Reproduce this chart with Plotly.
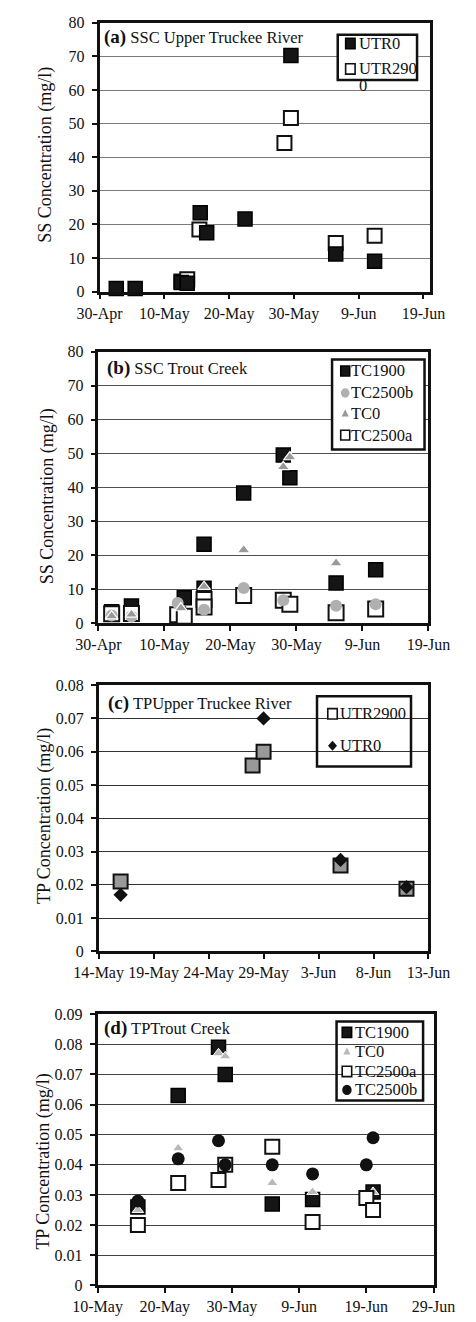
import plotly.graph_objects as go

W, H = 476, 1322
FONT = "Liberation Serif"

# ---------------- data ----------------
# (a) SSC Upper Truckee River
a_utr0_dates = ["2005-05-02 14:00", "2005-05-05 12:00", "2005-05-12 15:00", "2005-05-13 13:00",
                "2005-05-15 13:00", "2005-05-16 13:00", "2005-05-22 11:00", "2005-05-29 13:00",
                "2005-06-05 11:00", "2005-06-11 11:00"]
a_utr0_vals = [0.9, 0.9, 2.7, 2.5, 23.5, 17.5, 21.6, 70.3, 11.2, 9.0]
a_utr2900_dates = ["2005-05-12 15:00", "2005-05-13 13:00", "2005-05-15 10:00", "2005-05-28 13:00",
                   "2005-05-29 13:00", "2005-06-05 11:00", "2005-06-11 11:00"]
a_utr2900_vals = [3.0, 3.7, 18.5, 44.2, 51.7, 14.5, 16.6]

# (b) SSC Trout Creek
b_tc1900_dates = ["2005-05-02", "2005-05-05", "2005-05-13", "2005-05-16", "2005-05-16",
                  "2005-05-22", "2005-05-28", "2005-05-29", "2005-06-05", "2005-06-11"]
b_tc1900_vals = [3.4, 5.1, 7.5, 23.3, 10.3, 38.4, 49.6, 42.9, 11.9, 15.8]
b_tc2500b_dates = ["2005-05-02", "2005-05-05", "2005-05-12", "2005-05-16", "2005-05-22",
                   "2005-05-28", "2005-06-05", "2005-06-11"]
b_tc2500b_vals = [2.3, 2.0, 6.0, 4.0, 10.4, 6.8, 5.2, 5.6]
b_tc0_dates = ["2005-05-02", "2005-05-05", "2005-05-12 12:00", "2005-05-16", "2005-05-22",
               "2005-05-28", "2005-05-29", "2005-06-05"]
b_tc0_vals = [2.1, 2.6, 4.5, 10.8, 21.6, 46.1, 49.0, 17.7]
b_tc2500a_dates = ["2005-05-02", "2005-05-05", "2005-05-12", "2005-05-13", "2005-05-16",
                   "2005-05-16", "2005-05-22", "2005-05-28", "2005-05-29", "2005-06-05", "2005-06-11"]
b_tc2500a_vals = [2.8, 2.9, 2.5, 2.1, 7.0, 4.8, 8.2, 6.8, 5.6, 3.1, 4.2]

# (c) TP Upper Truckee River
c_utr2900_dates = ["2005-05-16", "2005-05-28", "2005-05-29", "2005-06-05", "2005-06-11"]
c_utr2900_vals = [0.021, 0.0559, 0.0600, 0.0258, 0.0188]
c_utr0_dates = ["2005-05-16", "2005-05-29", "2005-06-05", "2005-06-11"]
c_utr0_vals = [0.017, 0.070, 0.0275, 0.0193]

# (d) TP Trout Creek
d_tc1900_dates = ["2005-05-16", "2005-05-22", "2005-05-28", "2005-05-29", "2005-06-05",
                  "2005-06-11", "2005-06-20"]
d_tc1900_vals = [0.026, 0.063, 0.079, 0.070, 0.027, 0.0285, 0.031]
d_tc0_dates = ["2005-05-16", "2005-05-22", "2005-05-28", "2005-05-29", "2005-06-05",
               "2005-06-11", "2005-06-20"]
d_tc0_vals = [0.025, 0.0455, 0.077, 0.076, 0.034, 0.031, 0.031]
d_tc2500a_dates = ["2005-05-16", "2005-05-22", "2005-05-28", "2005-05-29", "2005-06-05",
                   "2005-06-11", "2005-06-19", "2005-06-20"]
d_tc2500a_vals = [0.020, 0.034, 0.035, 0.040, 0.046, 0.021, 0.029, 0.025]
d_tc2500b_dates = ["2005-05-16", "2005-05-22", "2005-05-28", "2005-05-29", "2005-06-05",
                   "2005-06-11", "2005-06-19", "2005-06-20"]
d_tc2500b_vals = [0.028, 0.042, 0.048, 0.040, 0.040, 0.037, 0.040, 0.049]

# ticks
x_tickvals_ab = ["2005-04-30", "2005-05-10", "2005-05-20", "2005-05-30", "2005-06-09", "2005-06-19"]
x_ticktext_ab = ["30-Apr", "10-May", "20-May", "30-May", "9-Jun", "19-Jun"]
x_tickvals_c = ["2005-05-14", "2005-05-19", "2005-05-24", "2005-05-29", "2005-06-03", "2005-06-08", "2005-06-13"]
x_ticktext_c = ["14-May", "19-May", "24-May", "29-May", "3-Jun", "8-Jun", "13-Jun"]
x_tickvals_d = ["2005-05-10", "2005-05-20", "2005-05-30", "2005-06-09", "2005-06-19", "2005-06-29"]
x_ticktext_d = ["10-May", "20-May", "30-May", "9-Jun", "19-Jun", "29-Jun"]
y_tickvals_ss = [0, 10, 20, 30, 40, 50, 60, 70, 80]
y_tickvals_tpc = [0, 0.01, 0.02, 0.03, 0.04, 0.05, 0.06, 0.07, 0.08]
y_ticktext_tpc = ["0", "0.01", "0.02", "0.03", "0.04", "0.05", "0.06", "0.07", "0.08"]
y_tickvals_tpd = [0, 0.01, 0.02, 0.03, 0.04, 0.05, 0.06, 0.07, 0.08, 0.09]
y_ticktext_tpd = ["0", "0.01", "0.02", "0.03", "0.04", "0.05", "0.06", "0.07", "0.08", "0.09"]

# ---------------- styles ----------------
BLACK_SQ = dict(symbol="square", size=14, color="#151515", line=dict(color="#000000", width=1.5))
OPEN_SQ = dict(symbol="square", size=14, color="#ffffff", line=dict(color="#111111", width=2))
OPEN_SQ_B = dict(symbol="square", size=15, color="#ffffff", line=dict(color="#111111", width=2))
GRAY_SQ = dict(symbol="square", size=14, color="#999999", line=dict(color="#111111", width=2))
DIAMOND = dict(symbol="diamond", size=11, color="#111111", line=dict(width=0))
GRAY_CIRC = dict(symbol="circle", size=12, color="#b0b0b0", line=dict(width=0))
GRAY_TRI = dict(symbol="triangle-up", size=11, color="#999999", line=dict(color="#ffffff", width=1.2))
LGRAY_TRI = dict(symbol="triangle-up", size=10, color="#b8b8b8", line=dict(color="#ffffff", width=1))
BLACK_CIRC = dict(symbol="circle", size=13, color="#111111", line=dict(width=0))

# panel pixel boxes
PANELS = {
    "a": dict(l=82.7, r=449.3, t=15.0, b=287.3),
    "b": dict(l=81.5, r=447.7, t=348.3, b=623.3),
    "c": dict(l=81.7, r=447.7, t=686.0, b=955.7),
    "d": dict(l=80.5, r=453.3, t=1019.3, b=1294.0),
}


def px(x):
    return x / W


def py(y):
    return 1 - y / H


fig = go.Figure()

def add(dates, vals, marker, ax, name):
    fig.add_trace(go.Scatter(x=dates, y=vals, mode="markers", marker=marker, name=name,
                             xaxis="x" + ax, yaxis="y" + ax, showlegend=False,
                             cliponaxis=False))

# (a) UTR2900 below UTR0
add(a_utr2900_dates, a_utr2900_vals, OPEN_SQ, "", "UTR2900")
add(a_utr0_dates, a_utr0_vals, BLACK_SQ, "", "UTR0")
# (b)
add(b_tc1900_dates, b_tc1900_vals, BLACK_SQ, "2", "TC1900")
add(b_tc2500a_dates, b_tc2500a_vals, OPEN_SQ_B, "2", "TC2500a")
add(b_tc2500b_dates, b_tc2500b_vals, GRAY_CIRC, "2", "TC2500b")
add(b_tc0_dates, b_tc0_vals, GRAY_TRI, "2", "TC0")
# (c)
add(c_utr2900_dates, c_utr2900_vals, GRAY_SQ, "3", "UTR2900")
add(c_utr0_dates, c_utr0_vals, DIAMOND, "3", "UTR0")
# (d)
add(d_tc1900_dates, d_tc1900_vals, BLACK_SQ, "4", "TC1900")
add(d_tc0_dates, d_tc0_vals, LGRAY_TRI, "4", "TC0")
add(d_tc2500a_dates, d_tc2500a_vals, OPEN_SQ, "4", "TC2500a")
add(d_tc2500b_dates, d_tc2500b_vals, BLACK_CIRC, "4", "TC2500b")

tickfont = dict(family=FONT, size=16, color="#111111")

def xaxis_cfg(p, rng, tv, tt, anchor):
    return dict(domain=[px(p["l"]), px(p["r"])], anchor=anchor, type="date", range=rng,
                tickmode="array", tickvals=tv, ticktext=tt, ticks="outside", ticklen=5,
                tickwidth=1.5, tickcolor="#111111", showgrid=False, zeroline=False,
                showline=True, linecolor="#111111", linewidth=2.5, mirror=True,
                tickfont=tickfont, ticklabelstandoff=0)

def yaxis_cfg(p, rng, tv, tt, anchor, grid):
    return dict(domain=[py(p["b"]), py(p["t"])], anchor=anchor, range=rng,
                tickmode="array", tickvals=tv, ticktext=tt, ticks="outside", ticklen=5,
                tickwidth=1.5, tickcolor="#111111", showgrid=True, gridcolor=grid,
                gridwidth=1.2, zeroline=False, showline=True, linecolor="#111111",
                linewidth=2.5, mirror=True, tickfont=tickfont, ticklabelstandoff=4)

fig.update_layout(
    width=W, height=H, margin=dict(l=0, r=0, t=0, b=0),
    paper_bgcolor="white", plot_bgcolor="white", showlegend=False,
    font=dict(family=FONT, color="#111111"),
    xaxis=xaxis_cfg(PANELS["a"], ["2005-04-30", "2005-06-20"], x_tickvals_ab, x_ticktext_ab, "y"),
    yaxis=yaxis_cfg(PANELS["a"], [0, 80], y_tickvals_ss, [str(v) for v in y_tickvals_ss], "x", "#7a7a7a"),
    xaxis2=xaxis_cfg(PANELS["b"], ["2005-04-30", "2005-06-19"], x_tickvals_ab, x_ticktext_ab, "y2"),
    yaxis2=yaxis_cfg(PANELS["b"], [0, 80], y_tickvals_ss, [str(v) for v in y_tickvals_ss], "x2", "#505050"),
    xaxis3=xaxis_cfg(PANELS["c"], ["2005-05-14", "2005-06-13"], x_tickvals_c, x_ticktext_c, "y3"),
    yaxis3=yaxis_cfg(PANELS["c"], [0, 0.08], y_tickvals_tpc, y_ticktext_tpc, "x3", "#333333"),
    xaxis4=xaxis_cfg(PANELS["d"], ["2005-05-10", "2005-06-29"], x_tickvals_d, x_ticktext_d, "y4"),
    yaxis4=yaxis_cfg(PANELS["d"], [0, 0.09], y_tickvals_tpd, y_ticktext_tpd, "x4", "#444444"),
)

annotations = []
shapes = []

# panel titles
titles = [
    ("(a)", "SSC Upper Truckee River", 87.0, 29.3),
    ("(b)", "SSC Trout Creek", 89.5, 364.3),
    ("(c)", "TPUpper Truckee River", 91.5, 704.3),
    ("(d)", "TPTrout Creek", 87.0, 1033.3),
]
for lab, txt, x, y in titles:
    annotations.append(dict(
        text='<span style="font-size:19px"><b>%s</b></span> %s' % (lab, txt),
        x=px(x), y=py(y), xref="paper", yref="paper", xanchor="left", yanchor="middle",
        showarrow=False, font=dict(family=FONT, size=16.5, color="#111111"),
        borderpad=0))

# y-axis titles
ytitles = [
    ("SS Concentration (mg/l)", 22.7, 148.3),
    ("SS Concentration (mg/l)", 25.0, 495.0),
    ("TP Concentration (mg/l)", 21.7, 819.0),
    ("TP Concentration (mg/l)", 20.7, 1169.0),
]
for txt, x, y in ytitles:
    annotations.append(dict(text=txt, x=px(x), y=py(y), xref="paper", yref="paper",
                            xanchor="center", yanchor="middle", textangle=-90,
                            showarrow=False, font=dict(family=FONT, size=18, color="#111111")))

# legends (box, entries)
legends = [
    dict(box=(347, 435, 27, 73), fill="white", tx=370, sx=361,
         items=[("UTR0", BLACK_SQ, 36.0, 10.5), ("UTR290", OPEN_SQ, 61.7, 10.5)]),
    dict(box=(340.7, 443.3, 356, 447.3), fill="white", tx=361, sx=355.3,
         items=[("TC1900", BLACK_SQ, 367.7, 10), ("TC2500b", GRAY_CIRC, 390.0, 9.5),
                ("TC0", GRAY_TRI, 410.7, 8), ("TC2500a", OPEN_SQ, 432.7, 10)]),
    dict(box=(324, 428.3, 697.3, 768.3), fill="rgba(0,0,0,0)", tx=348, sx=341.2,
         items=[("UTR2900", OPEN_SQ, 715.0, 10.5), ("UTR0", DIAMOND, 747.3, 10)]),
    dict(box=(345.7, 441.7, 1026.7, 1106.7), fill="rgba(0,0,0,0)", tx=365, sx=357.2,
         items=[("TC1900", BLACK_SQ, 1037.7, 10.5), ("TC0", LGRAY_TRI, 1057.0, 8),
                ("TC2500a", OPEN_SQ, 1077.3, 10.5), ("TC2500b", BLACK_CIRC, 1096.0, 10.5)]),
]
for lg in legends:
    x0, x1, y0, y1 = lg["box"]
    shapes.append(dict(type="rect", xref="paper", yref="paper", x0=px(x0), x1=px(x1),
                       y0=py(y1), y1=py(y0), line=dict(color="#111111", width=2.5),
                       fillcolor=lg["fill"], layer="above"))
    for name, mk, cy, s in lg["items"]:
        cx = lg["sx"]
        sym = mk["symbol"]
        fill = mk["color"]
        lw = mk.get("line", {}).get("width", 0) if sym == "square" else 0
        lc = mk.get("line", {}).get("color", fill)
        if sym == "square":
            if fill == "#ffffff":
                lw = 1.6
            shapes.append(dict(type="rect", xref="paper", yref="paper",
                               x0=px(cx - s / 2), x1=px(cx + s / 2), y0=py(cy + s / 2), y1=py(cy - s / 2),
                               fillcolor=fill, line=dict(color=lc, width=lw), layer="above"))
        elif sym == "circle":
            shapes.append(dict(type="circle", xref="paper", yref="paper",
                               x0=px(cx - s / 2), x1=px(cx + s / 2), y0=py(cy + s / 2), y1=py(cy - s / 2),
                               fillcolor=fill, line=dict(width=0), layer="above"))
        elif sym == "triangle-up":
            path = "M %f,%f L %f,%f L %f,%f Z" % (px(cx - s / 2), py(cy + s * 0.4),
                                                 px(cx + s / 2), py(cy + s * 0.4),
                                                 px(cx), py(cy - s * 0.5))
            shapes.append(dict(type="path", xref="paper", yref="paper", path=path,
                               fillcolor=fill, line=dict(width=0), layer="above"))
        elif sym == "diamond":
            path = "M %f,%f L %f,%f L %f,%f L %f,%f Z" % (px(cx - s / 2), py(cy), px(cx), py(cy - s / 2),
                                                          px(cx + s / 2), py(cy), px(cx), py(cy + s / 2))
            shapes.append(dict(type="path", xref="paper", yref="paper", path=path,
                               fillcolor=fill, line=dict(width=0), layer="above"))
        annotations.append(dict(text=name, x=px(lg["tx"]), y=py(cy), xref="paper", yref="paper",
                                xanchor="left", yanchor="middle", showarrow=False, borderpad=0,
                                font=dict(family=FONT, size=16.5, color="#111111")))

# wrapped last character of the (a) legend label, spilling below the box
annotations.append(dict(text="0", x=px(370), y=py(78.3), xref="paper", yref="paper",
                        xanchor="left", yanchor="middle", showarrow=False, borderpad=0,
                        font=dict(family=FONT, size=16.5, color="#111111")))

fig.update_layout(annotations=annotations, shapes=shapes)
fig.write_html("out.html")
